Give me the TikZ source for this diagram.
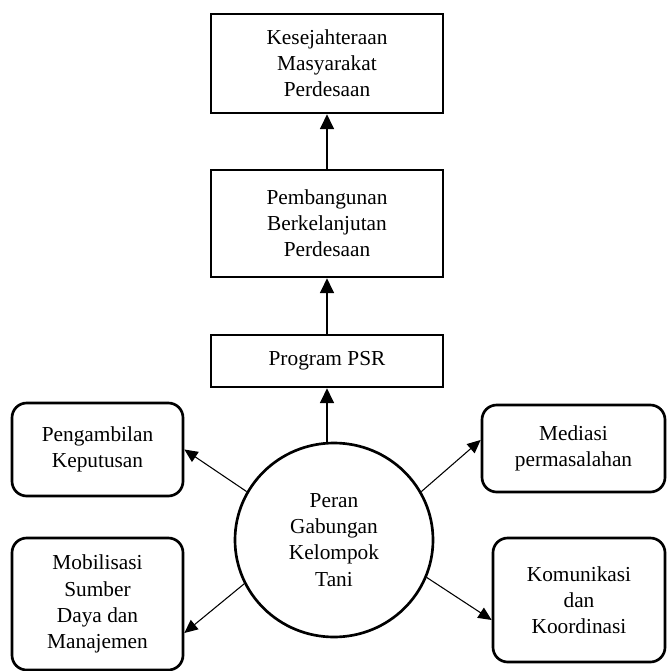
\documentclass[tikz,border=0pt]{standalone}
\usepackage{fontspec}
\setmainfont{Liberation Serif}
\usetikzlibrary{arrows.meta,shapes.geometric}
\begin{document}
\begin{tikzpicture}[x=0.75pt,y=-0.75pt,
  every node/.style={font=\fontsize{16}{19.6}\selectfont, align=center, inner sep=0pt},
  sqbox/.style={draw, line width=2pt, rectangle, minimum width=174pt},
  rbox/.style={draw, line width=2pt, rectangle, rounded corners=11pt},
  hub/.style={draw, line width=2pt, ellipse, minimum width=148.5pt, minimum height=145.5pt},
  uparrow/.style={line width=0.9pt, -{Triangle[length=11pt,width=10.5pt]}},
  sidearrow/.style={line width=0.8pt, -{Triangle[length=10pt,width=9pt]}}]
\useasboundingbox (0,0) rectangle (667,671);
\node[sqbox, minimum height=74.25pt] (b1) at (327,63.5) {Kesejahteraan\\Masyarakat\\Perdesaan};
\node[sqbox, minimum height=80.25pt] (b2) at (327,223.5) {Pembangunan\\Berkelanjutan\\Perdesaan};
\node[sqbox, minimum height=39pt] (b3) at (327,361) {Program PSR};
\node[hub] (e) at (334,540) {Peran\\Gabungan\\Kelompok\\Tani};
\node[rbox, minimum width=128.25pt, minimum height=69.75pt] (lt) at (97.5,449.5) {Pengambilan\\Keputusan};
\node[rbox, minimum width=128.25pt, minimum height=99pt] (lb) at (97.5,604) {Mobilisasi\\Sumber\\Daya dan\\Manajemen};
\node[rbox, minimum width=137.25pt, minimum height=65.25pt] (rt) at (573.5,448.5) {Mediasi\\permasalahan};
\node[rbox, minimum width=129pt, minimum height=93pt] (rb) at (579,600) {Komunikasi\\dan\\Koordinasi};
\draw[uparrow] (b2.north) -- (b1.south);
\draw[uparrow] (b3.north) -- (b2.south);
\draw[uparrow] (b3.south |- e.north) -- (b3.south);
\draw[sidearrow] (e.151) -- (lt.east);
\draw[sidearrow] (e.206) -- ([yshift=-21.75pt]lb.east);
\draw[sidearrow] (e.29) -- ([yshift=6.4pt]rt.west);
\draw[sidearrow] (e.-22) -- ([yshift=-15pt]rb.west);
\end{tikzpicture}
\end{document}
